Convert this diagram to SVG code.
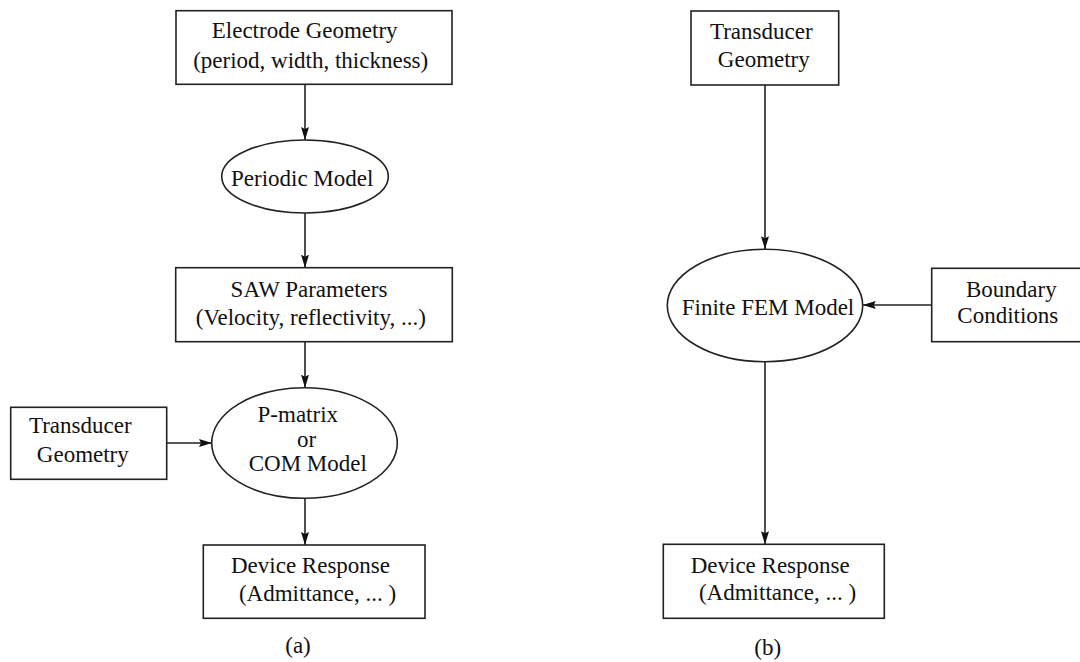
<svg xmlns="http://www.w3.org/2000/svg" width="1080" height="662" viewBox="0 0 1080 662" font-family="Liberation Serif, DejaVu Serif, serif">
<style>
.n{fill:#fff;stroke:#222;stroke-width:1.6}
.t{font-size:23px;fill:#111;text-anchor:middle}
.c{stroke:#222;stroke-width:1.6;fill:none}
</style>
<defs>
<marker id="ah" markerUnits="userSpaceOnUse" markerWidth="14" markerHeight="10" refX="13" refY="4" orient="auto">
<path d="M0,0 L13,4 L0,8 L2,4 z" fill="#111"/>
</marker>
</defs>
<rect width="1080" height="662" fill="#fff"/>
<g id="connectors">
<line class="c" x1="305" y1="84.3" x2="305" y2="140" marker-end="url(#ah)"/>
<line class="c" x1="305" y1="213" x2="305" y2="267.7" marker-end="url(#ah)"/>
<line class="c" x1="305" y1="341.7" x2="305" y2="387.7" marker-end="url(#ah)"/>
<line class="c" x1="305" y1="498.3" x2="305" y2="545" marker-end="url(#ah)"/>
<line class="c" x1="166.7" y1="443" x2="212" y2="443" marker-end="url(#ah)"/>
<line class="c" x1="765" y1="85" x2="765" y2="249.3" marker-end="url(#ah)"/>
<line class="c" x1="765" y1="361.7" x2="765" y2="544.3" marker-end="url(#ah)"/>
<line class="c" x1="931.7" y1="305" x2="862.7" y2="305" marker-end="url(#ah)"/>
</g>
<g id="electrode">
<rect class="n" x="176" y="10.7" width="276" height="73.6"/>
<text class="t" x="304.7" y="38.3" font-family="Liberation Serif, serif">Electrode Geometry</text>
<text class="t" x="310.7" y="68" font-family="Liberation Serif, serif">(period, width, thickness)</text>
</g>
<g id="periodic">
<ellipse class="n" cx="305" cy="176.5" rx="83.3" ry="36.5"/>
<text class="t" x="302.2" y="186">Periodic Model</text>
</g>
<g id="saw">
<rect class="n" x="175.7" y="267.7" width="276.6" height="74"/>
<text class="t" x="309" y="296.7">SAW Parameters</text>
<text class="t" x="310.8" y="325">(Velocity, reflectivity, ...)</text>
</g>
<g id="pmatrix">
<ellipse class="n" cx="304.5" cy="443" rx="92.8" ry="55.3"/>
<text class="t" x="297.8" y="421.5">P-matrix</text>
<text class="t" x="306.7" y="447">or</text>
<text class="t" x="307.8" y="471">COM Model</text>
</g>
<g id="transducer-a">
<rect class="n" x="10.7" y="407.3" width="156" height="72"/>
<text class="t" x="80.3" y="433.3">Transducer</text>
<text class="t" x="82.8" y="461.7">Geometry</text>
</g>
<g id="device-a">
<rect class="n" x="203.3" y="545" width="221.7" height="73.3"/>
<text class="t" x="310.5" y="572.7">Device Response</text>
<text class="t" x="317.5" y="600.7">(Admittance, ... )</text>
</g>
<g id="label-a">
<text class="t" x="298" y="652.7">(a)</text>
</g>
<g id="transducer-b">
<rect class="n" x="691" y="11" width="147.7" height="74"/>
<text class="t" x="761.3" y="39.3">Transducer</text>
<text class="t" x="763.8" y="66.7">Geometry</text>
</g>
<g id="fem">
<ellipse class="n" cx="765" cy="305.5" rx="97.7" ry="56.2"/>
<text class="t" x="768" y="315">Finite FEM Model</text>
</g>
<g id="boundary">
<rect class="n" x="931.7" y="268.3" width="160" height="73.4"/>
<text class="t" x="1011.3" y="296.7">Boundary</text>
<text class="t" x="1007.8" y="323.3">Conditions</text>
</g>
<g id="device-b">
<rect class="n" x="663.3" y="544.3" width="221" height="74"/>
<text class="t" x="770.2" y="572.7">Device Response</text>
<text class="t" x="777.5" y="600">(Admittance, ... )</text>
</g>
<g id="label-b">
<text class="t" x="767.7" y="655">(b)</text>
</g>
</svg>
